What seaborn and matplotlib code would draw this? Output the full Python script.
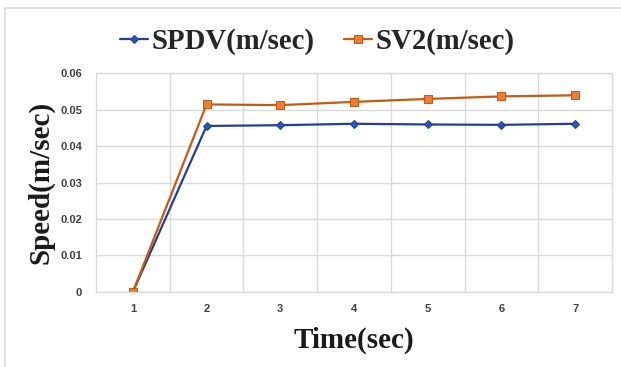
import matplotlib
matplotlib.use("Agg")
import matplotlib.pyplot as plt
import seaborn as sns
import pandas as pd
from matplotlib.patches import Rectangle

time = [1, 2, 3, 4, 5, 6, 7]
spdv = [0.0, 0.0455, 0.0457, 0.0461, 0.0459, 0.0458, 0.0461]
sv2 = [0.0, 0.0514, 0.0512, 0.0521, 0.0529, 0.0536, 0.0539]
series_names = ["SPDV(m/sec)", "SV2(m/sec)"]
y_ticks = [0, 0.01, 0.02, 0.03, 0.04, 0.05, 0.06]
y_tick_labels = ["0", "0.01", "0.02", "0.03", "0.04", "0.05", "0.06"]

sns.set_theme(style="white")
plt.rcParams['font.family'] = ['Liberation Sans', 'DejaVu Sans']

df = pd.DataFrame({
    "Time": time * 2,
    "Speed": spdv + sv2,
    "Series": [series_names[0]] * len(time) + [series_names[1]] * len(time),
})

fig = plt.figure(figsize=(6.21, 3.67), dpi=100)
ax = fig.add_axes([0.1546, 0.2044, 0.8309, 0.5966])

blue = "#203f9a"
orange = "#c55a11"
sns.lineplot(data=df[df.Series == series_names[0]], x="Time", y="Speed", ax=ax,
             color=blue, marker="D", markersize=4.5, markerfacecolor="#2e56b0",
             markeredgecolor=blue, linewidth=1.6, label=series_names[0])
sns.lineplot(data=df[df.Series == series_names[1]], x="Time", y="Speed", ax=ax,
             color=orange, marker="s", markersize=5.8, markerfacecolor="#ed7d31",
             markeredgecolor=orange, linewidth=1.6, label=series_names[1])

ax.set_xlim(0.5, 7.5)
ax.set_ylim(0, 0.06)
ax.set_xticks(time)
ax.set_xticklabels([str(t) for t in time])
ax.set_xticks([t + 0.5 for t in time[:-1]], minor=True)
ax.set_yticks(y_ticks)
ax.set_yticklabels(y_tick_labels)
ax.grid(True, axis="y", which="major", color="#d9d9d9", linewidth=1.0)
ax.grid(True, axis="x", which="minor", color="#d9d9d9", linewidth=1.0)
ax.grid(False, axis="x", which="major")
ax.set_axisbelow(True)
for s in ax.spines.values():
    s.set_color("#d9d9d9")
    s.set_linewidth(1.0)
ax.tick_params(axis="both", which="both", length=0, labelsize=8, colors="#404040")
for lab in ax.get_xticklabels() + ax.get_yticklabels():
    lab.set_fontweight("bold")
ax.tick_params(axis="y", pad=10)
ax.tick_params(axis="x", pad=9)

ax.set_xlabel("Time(sec)", fontsize=21, fontweight="bold", family="Liberation Serif",
              color="#1a1a1a", labelpad=9)
ax.set_ylabel("Speed(m/sec)", fontsize=21, fontweight="bold", family="Liberation Serif",
              color="#1a1a1a", labelpad=4)

handles, labels = ax.get_legend_handles_labels()
ax.get_legend().remove()
fig.legend(handles, labels, loc="center", bbox_to_anchor=(0.511, 0.887), ncol=2,
           frameon=False, prop={"family": "Liberation Serif", "weight": "bold", "size": 20.7},
           handlelength=0.95, handletextpad=0.12, columnspacing=1.05)

fig.patches.append(Rectangle((5 / 621, -0.01), 1.2, (359) / 367 + 0.01,
                             transform=fig.transFigure, fill=False,
                             edgecolor="#d9d9d9", linewidth=1.2))

fig.savefig("out.png", dpi=100)
